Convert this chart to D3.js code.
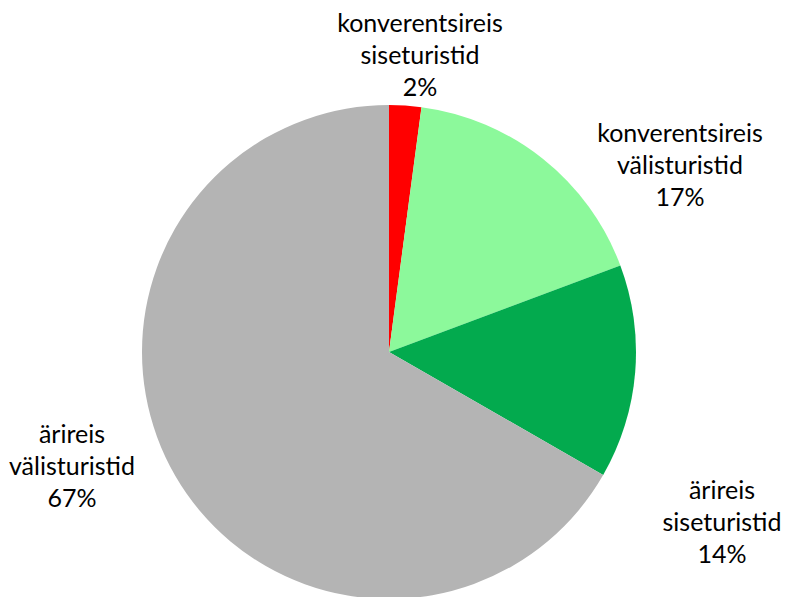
<!DOCTYPE html>
<html>
<head>
<meta charset="utf-8">
<script src="https://cdn.jsdelivr.net/npm/d3@7"></script>
<style>
  html, body { margin: 0; padding: 0; background: #fff; }
  svg { display: block; }
  text { font-family: Lato, "Open Sans", sans-serif; fill: #000; }
</style>
</head>
<body>
<svg id="chart" width="786" height="597"></svg>
<script>
// share of each visitor group, clockwise from 12 o'clock
const categories = [
  ["konverentsireis", "siseturistid"],
  ["konverentsireis", "välisturistid"],
  ["ärireis", "siseturistid"],
  ["ärireis", "välisturistid"],
];
const values = [2.1, 17.2, 14.0, 66.7];
const pctLabels = ["2%", "17%", "14%", "67%"];
const colors = ["#ff0000", "#8cf99b", "#03aa4e", "#b4b4b4"];

const W = 786, H = 597;
const cx = 389, cy = 352, r = 247;
const lineH = 32;

// label centres (first line), placed outside the pie like the original
const labelPos = [[420, 23], [680, 133], [722, 490], [72, 434]];

const svg = d3.select("#chart");
const g = svg.append("g").attr("transform", `translate(${cx},${cy})`);

const pie = d3.pie().sort(null).value(d => d);
const arc = d3.arc().innerRadius(0).outerRadius(r);
const arcs = pie(values);

g.selectAll("path.slice")
  .data(arcs)
  .join("path")
  .attr("class", "slice")
  .attr("d", arc)
  .attr("fill", (d, i) => colors[i]);

const labels = svg.selectAll("text.lbl")
  .data(arcs)
  .join("text")
  .attr("class", "lbl")
  .attr("text-anchor", "middle")
  .attr("font-size", 25);

labels.each(function (d, i) {
  const t = d3.select(this);
  const [x, y] = labelPos[i];
  const lines = [...categories[i], pctLabels[i]];
  lines.forEach((s, k) => {
    t.append("tspan")
      .attr("x", x)
      .attr("y", y + k * lineH)
      .attr("dy", "0.35em")
      .text(s);
  });
});
</script>
</body>
</html>
